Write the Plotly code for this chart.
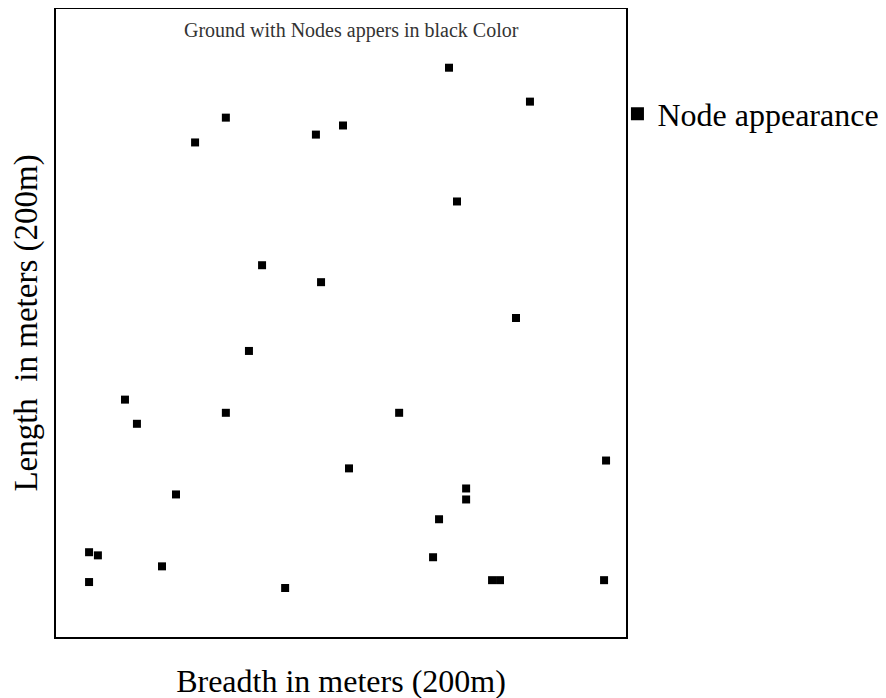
import plotly.graph_objects as go

# Node positions (meters) on a 200m x 200m ground
node_x = [137.9, 166.3, 59.6, 48.8, 91.2, 100.7, 140.7, 72.3, 93.0, 67.7,
          24.2, 28.4, 59.6, 120.4, 161.4, 193.0, 102.8, 42.1, 11.6, 14.7,
          37.2, 11.6, 80.4, 143.9, 143.9, 134.4, 132.3, 153.0, 155.8, 192.3]
node_y = [181.3, 170.5, 165.4, 157.5, 160.0, 162.9, 138.7, 118.4, 113.0, 91.1,
          75.6, 67.9, 71.4, 71.4, 101.6, 56.2, 53.7, 45.4, 27.0, 26.0,
          22.5, 17.5, 15.6, 47.3, 43.8, 37.5, 25.4, 18.1, 18.1, 18.1]

title_text = "Ground with Nodes appers in black Color"
legend_name = "Node appearance"
x_title = "Breadth in meters (200m)"
y_title = "Length  in meters (200m)"

serif = "Liberation Serif, Times New Roman, serif"

fig = go.Figure()
fig.add_trace(go.Scatter(
    x=node_x, y=node_y, mode="markers",
    marker=dict(symbol="square", size=8, color="black"),
    showlegend=False, name=legend_name, hoverinfo="x+y"))
# legend entry (larger symbol)
fig.add_trace(go.Scatter(
    x=[None], y=[None], mode="markers",
    marker=dict(symbol="square", size=13, color="black"),
    showlegend=True, name=legend_name))

fig.update_layout(
    width=886, height=698,
    margin=dict(l=48, r=268, t=1, b=69, autoexpand=False),
    paper_bgcolor="white", plot_bgcolor="white",
    font=dict(family=serif, color="black"),
    showlegend=True,
    legend=dict(x=0.985, xanchor="left", y=0.833, yanchor="middle",
                font=dict(family=serif, size=32, color="black"),
                bgcolor="rgba(0,0,0,0)", itemclick=False),
    annotations=[dict(text=title_text, xref="paper", yref="paper",
                      x=(343 - 48) / 570, y=(628 - 21) / 628,
                      xanchor="center", yanchor="middle", showarrow=False,
                      font=dict(family=serif, size=20, color="#333333"))],
)
fig.update_xaxes(range=[0, 200], showgrid=False, zeroline=False,
                 showticklabels=False, ticks="", automargin=False,
                 showline=True, mirror=True, linecolor="black", linewidth=1.5,
                 title=dict(text=x_title, font=dict(family=serif, size=32, color="black"),
                            standoff=32))
fig.update_yaxes(range=[0, 200], showgrid=False, zeroline=False,
                 showticklabels=False, ticks="", automargin=False,
                 showline=True, mirror=True, linecolor="black", linewidth=1.5,
                 title=dict(text=y_title, font=dict(family=serif, size=33, color="black"),
                            standoff=14))

fig.write_html("out.html")
